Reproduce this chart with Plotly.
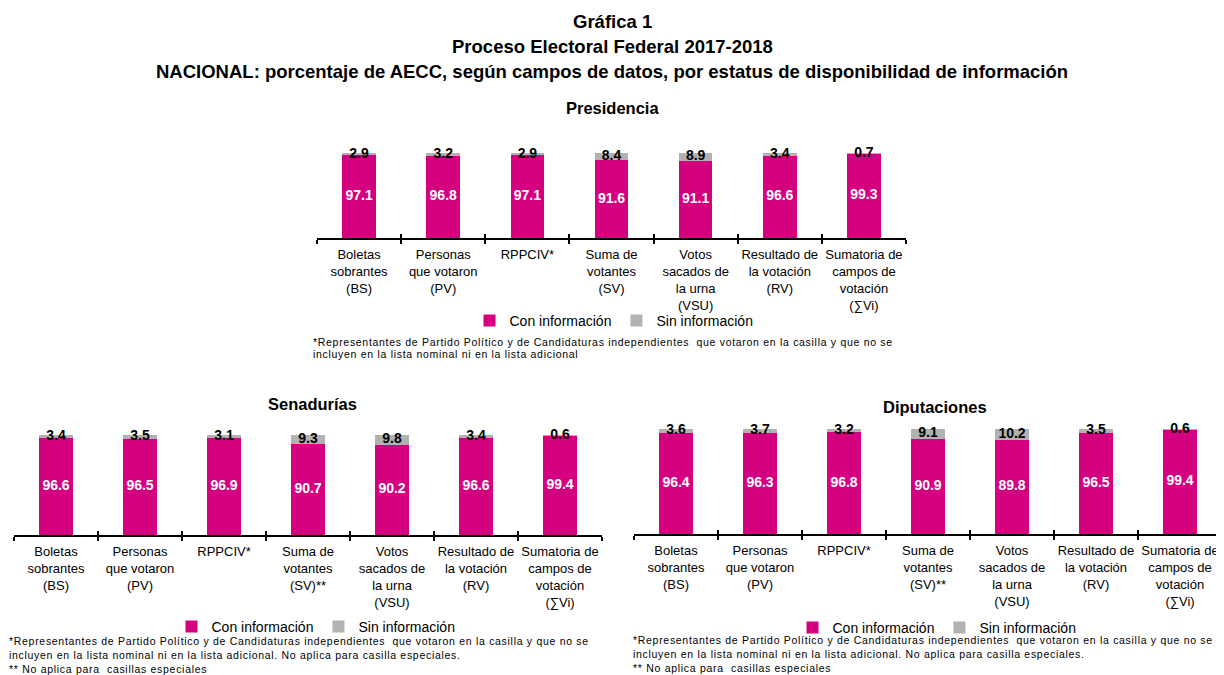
import plotly.graph_objects as go

# ---------------- data ----------------
cats_top = ["Boletas<br>sobrantes<br>(BS)", "Personas<br>que votaron<br>(PV)", "RPPCIV*",
            "Suma de<br>votantes<br>(SV)", "Votos<br>sacados de<br>la urna<br>(VSU)",
            "Resultado de<br>la votación<br>(RV)", "Sumatoria de<br>campos de<br>votación<br>(∑Vi)"]
cats_bottom = ["Boletas<br>sobrantes<br>(BS)", "Personas<br>que votaron<br>(PV)", "RPPCIV*",
               "Suma de<br>votantes<br>(SV)**", "Votos<br>sacados de<br>la urna<br>(VSU)",
               "Resultado de<br>la votación<br>(RV)", "Sumatoria de<br>campos de<br>votación<br>(∑Vi)"]

con_pres = [97.1, 96.8, 97.1, 91.6, 91.1, 96.6, 99.3]
sin_pres = [2.9, 3.2, 2.9, 8.4, 8.9, 3.4, 0.7]
con_sen = [96.6, 96.5, 96.9, 90.7, 90.2, 96.6, 99.4]
sin_sen = [3.4, 3.5, 3.1, 9.3, 9.8, 3.4, 0.6]
con_dip = [96.4, 96.3, 96.8, 90.9, 89.8, 96.5, 99.4]
sin_dip = [3.6, 3.7, 3.2, 9.1, 10.2, 3.5, 0.6]

series_names = ["Con información", "Sin información"]
panel_titles = ["Presidencia", "Senadurías", "Diputaciones"]
title_lines = ["Gráfica 1", "Proceso Electoral Federal 2017-2018",
               "NACIONAL: porcentaje de AECC, según campos de datos, por estatus de disponibilidad de información"]
note_top = ["*Representantes de Partido Político y de Candidaturas independientes  que votaron en la casilla y que no se",
            "incluyen en la lista nominal ni en la lista adicional"]
note_bottom = ["*Representantes de Partido Político y de Candidaturas independientes  que votaron en la casilla y que no se",
               "incluyen en la lista nominal ni en la lista adicional. No aplica para casilla especiales.",
               "** No aplica para  casillas especiales"]

# ---------------- style ----------------
OFF = 8                      # page body margin offset
W, H = 1224 - OFF, 675 - OFF
FONT = "Liberation Sans, Arial, sans-serif"
MAGENTA = "#D5007F"
GRAY = "#B2B2B2"

def px_x(p):
    return (p - OFF) / W

def px_y(p):
    return 1 - (p - OFF) / H

panels = [
    dict(cats=cats_top, con=con_pres, sin=sin_pres, xd=[px_x(317), px_x(906)], yd=[px_y(238), px_y(153)],
         legend="legend", xa="x", ya="y", ov="x4"),
    dict(cats=cats_bottom, con=con_sen, sin=sin_sen, xd=[px_x(14), px_x(602)], yd=[px_y(535), px_y(435)],
         legend="legend2", xa="x2", ya="y2", ov="x5"),
    dict(cats=cats_bottom, con=con_dip, sin=sin_dip, xd=[px_x(634), px_x(1222)], yd=[px_y(534), px_y(429)],
         legend="legend3", xa="x3", ya="y3", ov="x6"),
]

fig = go.Figure()

for i, p in enumerate(panels):
    fig.add_trace(go.Bar(x=p["cats"], y=p["con"], name=series_names[0], marker_color=MAGENTA,
                         marker_line_width=0, width=0.4, xaxis=p["xa"], yaxis=p["ya"],
                         legend=p["legend"], hoverinfo="x+y"))
    fig.add_trace(go.Bar(x=p["cats"], y=p["sin"], name=series_names[1], marker_color=GRAY,
                         marker_line_width=0, width=0.4, xaxis=p["xa"], yaxis=p["ya"],
                         legend=p["legend"], hoverinfo="x+y"))
    fig.add_trace(go.Scatter(x=p["cats"], y=[c / 2 for c in p["con"]], mode="text",
                             text=[f"{c:.1f}" for c in p["con"]],
                             textfont=dict(family=FONT, size=14, color="white", weight="bold"),
                             xaxis=p["xa"], yaxis=p["ya"], showlegend=False, hoverinfo="skip",
                             cliponaxis=False))
    fig.add_trace(go.Scatter(x=p["cats"], y=[c + s / 2 for c, s in zip(p["con"], p["sin"])], mode="text",
                             text=[f"{s:.1f}" for s in p["sin"]],
                             textfont=dict(family=FONT, size=14, color="black", weight="bold"),
                             xaxis=p["xa"], yaxis=p["ya"], showlegend=False, hoverinfo="skip",
                             cliponaxis=False))
    fig.add_trace(go.Scatter(x=[-0.5], y=[0], mode="markers", marker=dict(opacity=0),
                             xaxis=p["ov"], yaxis=p["ya"], showlegend=False, hoverinfo="skip"))

layout = dict(width=W, height=H, margin=dict(l=0, r=0, t=0, b=0),
              paper_bgcolor="white", plot_bgcolor="white", barmode="stack",
              font=dict(family=FONT, color="black"), showlegend=True)

for i, p in enumerate(panels):
    suf = "" if i == 0 else str(i + 1)
    layout["xaxis" + suf] = dict(domain=p["xd"], anchor=p["ya"], type="category",
                                 showline=True, linecolor="black", linewidth=1.5,
                                 ticks="outside", tickson="boundaries", ticklen=4,
                                 tickcolor="black", tickwidth=1.5, showgrid=False,
                                 tickangle=0, automargin=False, ticklabelstandoff=4,
                                 tickfont=dict(family=FONT, size=13, color="black"),
                                 fixedrange=True)
    layout["yaxis" + suf] = dict(domain=p["yd"], anchor=p["xa"], range=[0, 100], visible=False,
                                 fixedrange=True)
    ovn = str(4 + i)
    layout["xaxis" + ovn] = dict(overlaying=p["xa"], anchor=p["ya"], range=[-0.5, 6.5],
                                 tickmode="array", tickvals=[-0.5 + k for k in range(8)],
                                 ticks="inside", ticklen=4, tickcolor="black", tickwidth=1.5,
                                 showticklabels=False, showline=False, showgrid=False,
                                 zeroline=False, fixedrange=True)

legend_common = dict(orientation="h", xanchor="center", yanchor="middle", traceorder="normal",
                     font=dict(family=FONT, size=14, color="black"),
                     bgcolor="rgba(0,0,0,0)", itemwidth=30, itemclick=False, itemdoubleclick=False)
layout["legend"] = dict(legend_common, x=px_x(614), y=px_y(321))
layout["legend2"] = dict(legend_common, x=px_x(316), y=px_y(627))
layout["legend3"] = dict(legend_common, x=px_x(937), y=px_y(628))

fig.update_layout(**layout)

# titles
for txt, ypx in zip(title_lines, [21, 46, 72]):
    fig.add_annotation(text=txt, x=px_x(612), y=px_y(ypx), xref="paper", yref="paper",
                       xanchor="center", yanchor="middle", showarrow=False,
                       font=dict(family=FONT, size=18.5, color="black", weight="bold"))

for txt, xpx, ypx in zip(panel_titles, [612, 312, 935], [108, 404, 407]):
    fig.add_annotation(text=txt, x=px_x(xpx), y=px_y(ypx), xref="paper", yref="paper",
                       xanchor="center", yanchor="middle", showarrow=False,
                       font=dict(family=FONT, size=16.5, color="black", weight="bold"))

# footnotes (one annotation per line)
def add_note(lines, xpx, ypxs):
    for line, ypx in zip(lines, ypxs):
        fig.add_annotation(text=f'<span style="letter-spacing:0.7px">{line}</span>',
                           x=px_x(xpx), y=px_y(ypx), xref="paper", yref="paper",
                           xanchor="left", yanchor="middle", align="left", showarrow=False,
                           font=dict(family=FONT, size=10.5, color="black"))

add_note(note_top, 311, [342, 354])
add_note(note_bottom, 7, [641, 655, 669])
add_note(note_bottom, 631, [640, 654, 668])

fig.write_html("out.html", config=dict(displayModeBar=False))
